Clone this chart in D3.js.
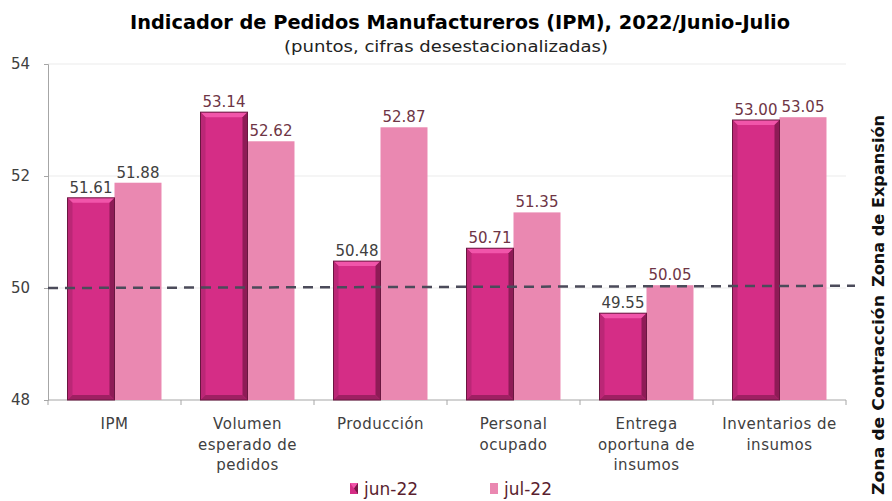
<!DOCTYPE html>
<html>
<head>
<meta charset="utf-8">
<script src="https://cdn.jsdelivr.net/npm/d3@7"></script>
<style>
  body { margin: 0; background: #fff; }
  text { font-family: "DejaVu Sans", sans-serif; }
</style>
</head>
<body>
<div id="chart"></div>
<script>
// datos
const categories = [
  ["IPM"],
  ["Volumen", "esperado de", "pedidos"],
  ["Producción"],
  ["Personal", "ocupado"],
  ["Entrega", "oportuna de", "insumos"],
  ["Inventarios de", "insumos"]
];
const series = ["jun-22", "jul-22"];
const jun22 = [51.61, 53.14, 50.48, 50.71, 49.55, 53.00];
const jul22 = [51.88, 52.62, 52.87, 51.35, 50.05, 53.05];
const yTicks = [48, 50, 52, 54];
const threshold = [50, 50.04]; // línea punteada (inicio, fin)

const width = 892, height = 501;
const margin = { top: 64, right: 46, bottom: 101, left: 48 };
const plotW = width - margin.left - margin.right;
const plotH = height - margin.top - margin.bottom;

const svg = d3.select("#chart").append("svg")
  .attr("width", width)
  .attr("height", height);

const g = svg.append("g")
  .attr("transform", `translate(${margin.left},${margin.top})`);

const keys = categories.map((c, i) => "c" + i);
const x0 = d3.scaleBand().domain(keys).range([0, plotW]).padding(0);
const x1 = d3.scaleBand().domain(series).range([0, x0.bandwidth()])
  .paddingInner(0).paddingOuter(0.415);
const y = d3.scaleLinear().domain([48, 54]).range([plotH, 0]);

// rejilla
g.selectAll(".grid").data(yTicks.filter(t => t > 48)).join("line")
  .attr("x1", 0).attr("x2", plotW)
  .attr("y1", d => y(d)).attr("y2", d => y(d))
  .attr("stroke", "#ebebeb").attr("stroke-width", 1);

// eje y
const yAxis = g.append("g")
  .call(d3.axisLeft(y).tickValues(yTicks).tickFormat(d3.format("d"))
    .tickSize(4).tickPadding(14));
yAxis.select(".domain").attr("stroke", "#a6a6a6");
yAxis.selectAll(".tick line").attr("stroke", "#a6a6a6");
yAxis.selectAll("text").attr("font-size", 15).attr("fill", "#404040")
  .style("font-family", "DejaVu Sans, sans-serif");

// eje x
const xAxis = g.append("g").attr("transform", `translate(0,${plotH})`);
xAxis.append("line").attr("x1", 0).attr("x2", plotW)
  .attr("stroke", "#a6a6a6");
xAxis.selectAll(".xt").data(d3.range(keys.length + 1)).join("line")
  .attr("x1", i => i * x0.step()).attr("x2", i => i * x0.step())
  .attr("y1", 0).attr("y2", 5).attr("stroke", "#a6a6a6");

const catLabels = xAxis.selectAll(".cat").data(categories).join("text")
  .attr("text-anchor", "middle")
  .attr("font-size", 15)
  .attr("letter-spacing", 0.5)
  .attr("fill", "#404040")
  .attr("transform", (d, i) => `translate(${x0(keys[i]) + x0.bandwidth() / 2},29)`);
catLabels.selectAll("tspan").data(d => d).join("tspan")
  .attr("x", 0).attr("dy", (d, i) => i === 0 ? 0 : 20.5).text(d => d);

// barras
const juncol = "#d52d86";
const julcol = "#ea88b1";
const rows = jun22.map((v, i) => ({ key: keys[i], jun: v, jul: jul22[i] }));

const groups = g.selectAll(".grp").data(rows).join("g")
  .attr("transform", d => `translate(${x0(d.key)},0)`);

// jul-22 (plana)
groups.append("rect")
  .attr("x", x1("jul-22"))
  .attr("y", d => y(d.jul))
  .attr("width", x1.bandwidth())
  .attr("height", d => plotH - y(d.jul))
  .attr("fill", julcol);

// jun-22 con bisel
function bevel(sel, bx, bw, val) {
  const top = y(val), bot = plotH, b = 5;
  const l = bx, r = bx + bw;
  sel.append("rect").attr("x", l).attr("y", top).attr("width", bw)
    .attr("height", bot - top).attr("fill", juncol);
  const poly = (pts, fill) => sel.append("polygon")
    .attr("points", pts.map(p => p.join(",")).join(" ")).attr("fill", fill);
  poly([[l, top], [r, top], [r - b, top + b], [l + b, top + b]], "#f155aa");
  poly([[l, top], [l + b, top + b], [l + b, bot - b], [l, bot]], "#bb2776");
  poly([[r, top], [r, bot], [r - b, bot - b], [r - b, top + b]], "#8e1b56");
  poly([[l, bot], [l + b, bot - b], [r - b, bot - b], [r, bot]], "#9e2062");
  sel.append("rect").attr("x", l).attr("y", top).attr("width", bw)
    .attr("height", bot - top).attr("fill", "none")
    .attr("stroke", "#6a1640").attr("stroke-width", 1);
}
groups.each(function (d) {
  bevel(d3.select(this), x1("jun-22"), x1.bandwidth(), d.jun);
});

// etiquetas de valor
const dark = "#404040", maroon = "#6e3545";
const junLabCol = [dark, maroon, dark, maroon, dark, maroon];
const julLabCol = [dark, maroon, maroon, maroon, maroon, maroon];
groups.append("text")
  .attr("x", x1("jun-22") + x1.bandwidth() / 2)
  .attr("y", d => y(d.jun) - 5)
  .attr("text-anchor", "middle").attr("font-size", 15)
  .attr("fill", (d, i) => junLabCol[i])
  .text(d => d.jun.toFixed(2));
groups.append("text")
  .attr("x", x1("jul-22") + x1.bandwidth() / 2)
  .attr("y", d => y(d.jul) - 5)
  .attr("text-anchor", "middle").attr("font-size", 15)
  .attr("fill", (d, i) => julLabCol[i])
  .text(d => d.jul.toFixed(2));

// línea de 50
g.append("line")
  .attr("x1", 0).attr("x2", plotW + 9)
  .attr("y1", y(threshold[0])).attr("y2", y(threshold[1]))
  .attr("stroke", "#4b4b5a").attr("stroke-width", 2.5)
  .attr("stroke-dasharray", "10,7");

// títulos
svg.append("text")
  .attr("x", 460).attr("y", 29)
  .attr("text-anchor", "middle")
  .attr("font-size", 20).attr("font-weight", "bold").attr("fill", "#000")
  .attr("textLength", 660).attr("lengthAdjust", "spacingAndGlyphs")
  .text("Indicador de Pedidos Manufactureros (IPM), 2022/Junio-Julio");
svg.append("text")
  .attr("x", 446).attr("y", 52)
  .attr("text-anchor", "middle")
  .attr("font-size", 15).attr("fill", "#222")
  .attr("textLength", 324).attr("lengthAdjust", "spacingAndGlyphs")
  .text("(puntos, cifras desestacionalizadas)");

// zonas
svg.append("text")
  .attr("transform", "translate(884,495) rotate(-90)")
  .attr("font-size", 15).attr("font-weight", "bold").attr("fill", "#111")
  .attr("textLength", 200).attr("lengthAdjust", "spacingAndGlyphs")
  .text("Zona de Contracción");
svg.append("text")
  .attr("transform", "translate(884,287) rotate(-90)")
  .attr("font-size", 15).attr("font-weight", "bold").attr("fill", "#111")
  .attr("textLength", 172).attr("lengthAdjust", "spacingAndGlyphs")
  .text("Zona de Expansión");

// leyenda
const legend = svg.append("g").attr("transform", "translate(350,483)");
const lg1 = legend.append("g");
lg1.append("rect").attr("width", 8).attr("height", 11).attr("y", 0).attr("fill", juncol);
lg1.append("polygon").attr("points", "0,0 8,0 4,5.5").attr("fill", "#f155aa");
lg1.append("polygon").attr("points", "8,0 8,11 4,5.5").attr("fill", "#7a1848");
lg1.append("text").attr("x", 14).attr("y", 12).attr("font-size", 17)
  .attr("fill", "#5a1f30").text("jun-22");
const lg2 = legend.append("g").attr("transform", "translate(140,0)");
lg2.append("rect").attr("width", 8).attr("height", 11).attr("fill", julcol);
lg2.append("text").attr("x", 14).attr("y", 12).attr("font-size", 17)
  .attr("fill", "#5a1f30").text("jul-22");
</script>
</body>
</html>
